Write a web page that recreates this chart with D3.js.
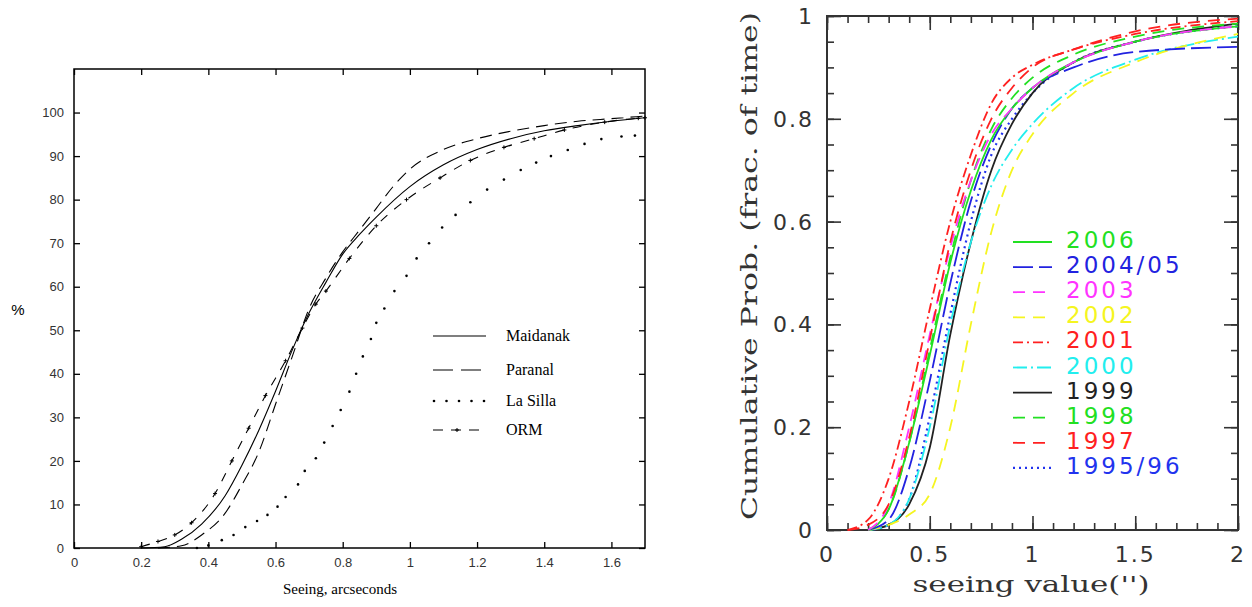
<!DOCTYPE html>
<html><head><meta charset="utf-8">
<script src="https://cdn.jsdelivr.net/npm/d3@7"></script>
<style>body{margin:0;background:#fff}svg{display:block}</style>
</head><body>
<svg id="chart" width="1252" height="607"></svg>
<script>
// left panel: seeing cumulative distributions (%)
var maidanak = [[0.2,0],[0.27,0.3],[0.32,2],[0.38,5.5],[0.45,12],[0.5,19],[0.55,27],[0.6,36],[0.65,45.5],[0.7,54],[0.75,61],[0.8,67.5],[0.85,72],[0.9,76],[1.0,83],[1.1,88],[1.2,91.5],[1.3,94],[1.4,95.8],[1.5,97],[1.6,98],[1.7,98.8]];
var paranal = [[0.25,0],[0.32,0.5],[0.38,3],[0.45,8],[0.5,14.5],[0.55,22],[0.6,33],[0.65,44],[0.7,55],[0.75,62],[0.8,68],[0.85,73],[0.9,78],[0.95,83],[1.0,87],[1.1,91.5],[1.2,94],[1.3,95.7],[1.4,97],[1.5,98],[1.6,98.6],[1.7,99.2]];
var laSilla = [[0.366,0],[0.4,0.6],[0.44,1.8],[0.475,3],[0.51,4.8],[0.545,6.2],[0.576,7.6],[0.606,9.5],[0.63,11.7],[0.667,14.6],[0.687,17.7],[0.72,20.6],[0.745,24.2],[0.77,28],[0.794,31.7],[0.82,35.9],[0.84,40],[0.86,44],[0.884,48],[0.9,51.7],[0.924,55],[0.954,59],[0.99,62.5],[1.02,66.5],[1.057,70],[1.096,73.6],[1.136,76.5],[1.18,79.4],[1.23,82.3],[1.28,84.6],[1.33,86.8],[1.376,88.5],[1.42,90],[1.47,91.4],[1.52,92.8],[1.57,93.9],[1.63,94.5],[1.67,94.7]];
var orm = [[0.2,0.3],[0.25,1.5],[0.3,3],[0.35,5.8],[0.42,12.5],[0.47,20],[0.52,27.5],[0.57,35],[0.63,43],[0.68,50.5],[0.72,56],[0.75,59],[0.82,66.5],[0.9,74],[0.99,80],[1.09,85],[1.18,89],[1.28,92],[1.37,94],[1.46,96],[1.58,97.8],[1.68,98.7],[1.7,98.8]];
var leftNames = ["Maidanak","Paranal","La Silla","ORM"];
var leftXTicks = [0,0.2,0.4,0.6,0.8,1,1.2,1.4,1.6];
var leftYTicks = [0,10,20,30,40,50,60,70,80,90,100];

// right panel: cumulative probability per year
var rxs = [0.2,0.3,0.4,0.5,0.6,0.7,0.8,0.9,1.0,1.2,1.5,2.0];
var y2006 = [0,0.04,0.17,0.34,0.52,0.66,0.76,0.82,0.86,0.91,0.95,0.98];
var y2004 = [0,0.02,0.12,0.29,0.48,0.64,0.75,0.82,0.86,0.9,0.93,0.94];
var y2003 = [0,0.05,0.2,0.38,0.55,0.68,0.77,0.82,0.86,0.91,0.95,0.98];
var y2002 = [0,0.01,0.03,0.07,0.2,0.4,0.58,0.7,0.77,0.85,0.91,0.965];
var y2001 = [0.02,0.1,0.25,0.43,0.6,0.73,0.83,0.88,0.905,0.935,0.965,0.99];
var y2000 = [0,0.01,0.06,0.2,0.4,0.56,0.67,0.74,0.79,0.86,0.915,0.96];
var y1999 = [0,0.01,0.05,0.16,0.38,0.56,0.7,0.79,0.85,0.91,0.95,0.985];
var y1998 = [0,0.04,0.17,0.35,0.53,0.68,0.78,0.84,0.88,0.925,0.96,0.985];
var y1997 = [0.01,0.05,0.18,0.37,0.56,0.7,0.8,0.86,0.9,0.935,0.97,0.995];
var y1995 = [0,0.01,0.06,0.22,0.42,0.6,0.73,0.8,0.85,0.91,0.95,0.98];
var yearNames = ["2006","2004/05","2003","2002","2001","2000","1999","1998","1997","1995/96"];
var yearColors = ["#22e022","#2222e0","#ff33ff","#f5f520","#ff2020","#22eeee","#222222","#22e022","#ff2020","#2233ee"];
var yearDash = [null,"20,6","12,8","12,8","10,4,2,4","14,4,2,4",null,"12,8","12,8","2,4"];
var yearSeries = [y2006,y2004,y2003,y2002,y2001,y2000,y1999,y1998,y1997,y1995];

var svg = d3.select("#chart");

// ---------- left panel ----------
var L = {left:74, right:645, top:69, bottom:548};
var lx = d3.scaleLinear().domain([0,1.7]).range([L.left,L.right]);
var ly = d3.scaleLinear().domain([0,110]).range([L.bottom,L.top]);
var gl = svg.append("g");
gl.append("rect").attr("x",L.left).attr("y",L.top).attr("width",L.right-L.left).attr("height",L.bottom-L.top)
  .attr("fill","none").attr("stroke","#000").attr("stroke-width",1.5);
gl.append("g").attr("transform","translate(0,"+L.bottom+")")
  .call(d3.axisBottom(lx).tickValues(leftXTicks).tickSize(-6).tickPadding(10).tickFormat(d3.format("")))
  .call(function(g){g.select(".domain").remove();});
gl.append("g").attr("transform","translate(0,"+L.top+")")
  .call(d3.axisTop(lx).tickValues(leftXTicks).tickSize(-6).tickFormat(""))
  .call(function(g){g.select(".domain").remove();});
gl.append("g").attr("transform","translate("+L.left+",0)")
  .call(d3.axisLeft(ly).tickValues(leftYTicks).tickSize(-6).tickPadding(10))
  .call(function(g){g.select(".domain").remove();});
gl.append("g").attr("transform","translate("+L.right+",0)")
  .call(d3.axisRight(ly).tickValues(leftYTicks).tickSize(-6).tickFormat(""))
  .call(function(g){g.select(".domain").remove();});
gl.selectAll(".tick text").style("font-family","Liberation Sans, Arial").style("font-size","13px").attr("fill","#333");
gl.selectAll(".tick line").attr("stroke","#000").attr("stroke-width",1.3);
gl.append("text").attr("x",18).attr("y",315).attr("text-anchor","middle")
  .style("font-family","Liberation Sans").style("font-size","15px").text("%");
gl.append("text").attr("x",340).attr("y",594).attr("text-anchor","middle")
  .style("font-family","Liberation Serif").style("font-size","15px").text("Seeing,  arcseconds");

var lline = d3.line().x(function(d){return lx(d[0]);}).y(function(d){return ly(d[1]);}).curve(d3.curveMonotoneX);
gl.append("path").datum(maidanak).attr("d",lline).attr("fill","none").attr("stroke","#000").attr("stroke-width",1.1);
gl.append("path").datum(paranal).attr("d",lline).attr("fill","none").attr("stroke","#000").attr("stroke-width",1.1).attr("stroke-dasharray","12,7");
gl.append("path").datum(orm).attr("d",lline).attr("fill","none").attr("stroke","#000").attr("stroke-width",1.1).attr("stroke-dasharray","9,9");
gl.selectAll(".plus").data(orm).enter().append("path").attr("class","plus")
  .attr("d",function(d){var x=lx(d[0]),y=ly(d[1]);return "M"+(x-2)+","+y+"H"+(x+2)+"M"+x+","+(y-2)+"V"+(y+2);})
  .attr("stroke","#000").attr("stroke-width",1);
gl.selectAll(".dot").data(laSilla).enter().append("circle").attr("class","dot")
  .attr("cx",function(d){return lx(d[0]);}).attr("cy",function(d){return ly(d[1]);}).attr("r",1.3).attr("fill","#000");

// left legend
var legY = [336,370,401,430];
leftNames.forEach(function(n,i){
  var y = legY[i];
  var g = gl.append("g");
  if (i===2) {
    d3.range(5).forEach(function(k){g.append("circle").attr("cx",434+k*12.5).attr("cy",y).attr("r",1.3).attr("fill","#000");});
  } else {
    g.append("line").attr("x1",433).attr("x2",486).attr("y1",y).attr("y2",y).attr("stroke","#000").attr("stroke-width",1.1)
      .attr("stroke-dasharray", i===0?null:(i===1?"20,8":"10,8"));
    if (i===3) g.append("path").attr("d","M457,"+(y-2)+"V"+(y+2)+"M455,"+y+"H459").attr("stroke","#000");
  }
  g.append("text").attr("x",506).attr("y",y+5).style("font-family","Liberation Serif").style("font-size","16px").text(n);
});

// ---------- right panel ----------
var R = {left:827, right:1238, top:16, bottom:530};
var rx = d3.scaleLinear().domain([0,2]).range([R.left,R.right]);
var ry = d3.scaleLinear().domain([0,1]).range([R.bottom,R.top]);
var gr = svg.append("g");
var fnt = "DejaVu Sans", serif = "DejaVu Serif";
function tickAxis(axis, scale, vals, size, tr) {
  gr.append("g").attr("transform",tr).call(axis(scale).tickValues(vals).tickSize(size).tickFormat(""))
    .call(function(g){g.select(".domain").remove();});
}
var xMinor = d3.range(0,2.001,0.1), xMajor = [0,0.5,1,1.5,2];
var yMinor = d3.range(0,1.001,0.05), yMajor = [0,0.2,0.4,0.6,0.8,1];
tickAxis(d3.axisBottom, rx, xMinor, -7, "translate(0,"+R.bottom+")");
tickAxis(d3.axisBottom, rx, xMajor, -14, "translate(0,"+R.bottom+")");
tickAxis(d3.axisTop, rx, xMinor, -7, "translate(0,"+R.top+")");
tickAxis(d3.axisTop, rx, xMajor, -14, "translate(0,"+R.top+")");
tickAxis(d3.axisLeft, ry, yMinor, -7, "translate("+R.left+",0)");
tickAxis(d3.axisLeft, ry, yMajor, -14, "translate("+R.left+",0)");
tickAxis(d3.axisRight, ry, yMinor, -7, "translate("+R.right+",0)");
tickAxis(d3.axisRight, ry, yMajor, -14, "translate("+R.right+",0)");
gr.selectAll(".tick line").attr("stroke","#333").attr("stroke-width",1.6);
gr.append("rect").attr("x",R.left).attr("y",R.top).attr("width",R.right-R.left).attr("height",R.bottom-R.top)
  .attr("fill","none").attr("stroke","#333").attr("stroke-width",2);
xMajor.forEach(function(v){
  gr.append("text").attr("x",rx(v)).attr("y",R.bottom+32).attr("text-anchor","middle")
    .style("font-family",fnt).style("font-size","22px").style("letter-spacing","2px").attr("fill","#333").text(d3.format("")(v));
});
yMajor.forEach(function(v){
  gr.append("text").attr("x",R.left-13).attr("y",ry(v)+8).attr("text-anchor","end")
    .style("font-family",fnt).style("font-size","22px").style("letter-spacing","2px").attr("fill","#333").text(d3.format("")(v));
});
gr.append("text").attr("x",1031).attr("y",592).attr("text-anchor","middle")
  .attr("textLength",237).attr("lengthAdjust","spacingAndGlyphs")
  .style("font-family",serif).style("font-size","23px").attr("fill","#333").text("seeing value('')");
gr.append("text").attr("transform","translate(757,266) rotate(-90)").attr("text-anchor","middle")
  .attr("textLength",508).attr("lengthAdjust","spacingAndGlyphs")
  .style("font-family",serif).style("font-size","22px").attr("fill","#333").text("Cumulative Prob. (frac. of time)");

var rline = d3.line().x(function(d){return rx(d[0]);}).y(function(d){return ry(d[1]);}).curve(d3.curveMonotoneX);
var order = [9,6,5,3,1,0,7,2,8,4];
order.forEach(function(i){
  var s = yearSeries[i].map(function(v,k){return [rxs[k],v];});
  if (i===4 || i===8) s.unshift([0.1,0]);
  gr.append("path").datum(s).attr("d",rline).attr("fill","none").attr("stroke",yearColors[i])
    .attr("stroke-width",i===9?2.2:1.8).attr("stroke-dasharray",yearDash[i]);
});
yearNames.forEach(function(n,i){
  var y = 240 + i*25.1;
  gr.append("line").attr("x1",1013).attr("x2",1052).attr("y1",y+2).attr("y2",y+2).attr("stroke",yearColors[i])
    .attr("stroke-width",i===9?2.2:1.8).attr("stroke-dasharray",yearDash[i]);
  gr.append("text").attr("x",1066).attr("y",y+8).style("font-family",fnt).style("font-size","23px")
    .style("letter-spacing","3px").attr("fill",yearColors[i]).text(n);
});
</script>
</body></html>
